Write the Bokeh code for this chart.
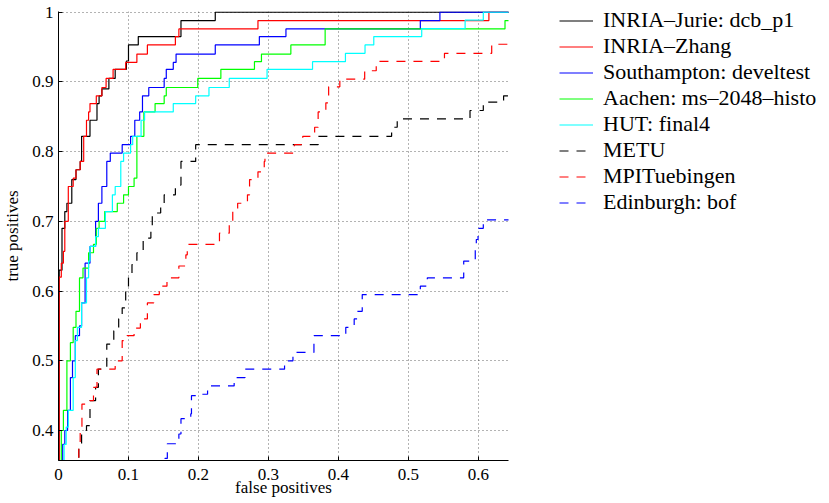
from bokeh.plotting import figure
from bokeh.models import (Legend, LegendItem, FixedTicker, CustomJSTickFormatter, Range1d)
from bokeh.embed import file_html
from bokeh.resources import INLINE

# ---- data (false positive rate, true positive rate) ----
jurie_fp = [0, 0.001, 0.005, 0.009, 0.012, 0.019, 0.025, 0.031, 0.033, 0.045, 0.055, 0.058, 0.062,
            0.072, 0.081, 0.097, 0.100, 0.114, 0.175, 0.224, 1.0]
jurie_tp = [0, 0.63, 0.69, 0.714, 0.726, 0.76, 0.774, 0.786, 0.822, 0.845, 0.869, 0.88, 0.89,
            0.905, 0.918, 0.93, 0.953, 0.965, 0.988, 1.0, 1.0]

zhang_fp = [0, 0.001, 0.004, 0.007, 0.009, 0.014, 0.021, 0.025, 0.031, 0.036, 0.040, 0.043, 0.045,
            0.054, 0.062, 0.068, 0.078, 0.096, 0.112, 0.127, 0.167, 0.172, 0.285, 0.615, 1.0]
zhang_tp = [0, 0.62, 0.64, 0.657, 0.70, 0.75, 0.762, 0.774, 0.786, 0.822, 0.845, 0.857, 0.869,
            0.88, 0.892, 0.905, 0.918, 0.928, 0.94, 0.953, 0.965, 0.976, 0.988, 1.0, 1.0]

soton_fp = [0, 0.006, 0.009, 0.013, 0.017, 0.020, 0.024, 0.030, 0.033, 0.038, 0.045, 0.053, 0.057,
            0.062, 0.069, 0.074, 0.091, 0.103, 0.109, 0.116, 0.120, 0.129, 0.151, 0.154, 0.164,
            0.168, 0.224, 0.287, 0.325, 0.517, 0.545, 1.0]
soton_tp = [0, 0.38, 0.40, 0.429, 0.476, 0.50, 0.536, 0.55, 0.583, 0.64, 0.664, 0.70, 0.726,
            0.75, 0.786, 0.798, 0.81, 0.822, 0.845, 0.857, 0.88, 0.892, 0.905, 0.918, 0.928,
            0.94, 0.953, 0.965, 0.976, 0.988, 1.0, 1.0]

aachen_fp = [0, 0.004, 0.007, 0.012, 0.017, 0.021, 0.025, 0.030, 0.035, 0.043, 0.050, 0.054, 0.058,
             0.066, 0.084, 0.093, 0.100, 0.108, 0.112, 0.122, 0.138, 0.151, 0.154, 0.199, 0.232,
             0.280, 0.290, 0.332, 0.381, 0.638, 1.0]
aachen_tp = [0, 0.40, 0.429, 0.50, 0.526, 0.548, 0.571, 0.619, 0.633, 0.655, 0.667, 0.69, 0.70,
             0.714, 0.726, 0.738, 0.75, 0.762, 0.822, 0.857, 0.869, 0.88, 0.892, 0.905, 0.918,
             0.929, 0.94, 0.953, 0.976, 0.988, 0.988]

hut_fp = [0, 0.008, 0.011, 0.014, 0.021, 0.024, 0.027, 0.033, 0.040, 0.043, 0.045, 0.053, 0.057,
          0.067, 0.077, 0.081, 0.089, 0.093, 0.103, 0.106, 0.118, 0.123, 0.164, 0.196, 0.215,
          0.244, 0.298, 0.363, 0.410, 0.438, 0.4505, 0.519, 0.581, 0.607, 1.0]
hut_tp = [0, 0.38, 0.405, 0.429, 0.476, 0.529, 0.548, 0.583, 0.619, 0.643, 0.664, 0.678, 0.69,
          0.714, 0.738, 0.75, 0.786, 0.798, 0.81, 0.822, 0.845, 0.857, 0.869, 0.88, 0.892,
          0.905, 0.918, 0.929, 0.941, 0.953, 0.965, 0.9765, 0.9885, 1.0, 1.0]

metu_fp = [0, 0.029, 0.033, 0.040, 0.045, 0.053, 0.057, 0.069, 0.079, 0.086, 0.091, 0.096, 0.100,
           0.105, 0.112, 0.121, 0.132, 0.134, 0.146, 0.151, 0.167, 0.175, 0.196, 0.371, 0.476,
           0.484, 0.588, 0.607, 0.636, 1.0]
metu_tp = [0, 0.38, 0.40, 0.407, 0.443, 0.462, 0.488, 0.524, 0.543, 0.56, 0.576, 0.60, 0.624,
           0.638, 0.655, 0.676, 0.69, 0.712, 0.724, 0.738, 0.752, 0.786, 0.81, 0.822, 0.835,
           0.847, 0.859, 0.871, 0.88, 0.88]

mpi_fp = [0, 0.029, 0.031, 0.0335, 0.043, 0.050, 0.055, 0.081, 0.091, 0.098, 0.108, 0.117, 0.127,
          0.136, 0.144, 0.155, 0.172, 0.182, 0.184, 0.230, 0.244, 0.249, 0.256, 0.270, 0.273,
          0.285, 0.294, 0.295, 0.337, 0.349, 0.366, 0.371, 0.382, 0.386, 0.402, 0.4375, 0.454,
          0.5515, 0.619, 1.0]
mpi_tp = [0, 0.38, 0.405, 0.438, 0.443, 0.462, 0.488, 0.50, 0.529, 0.536, 0.547, 0.56, 0.583,
          0.595, 0.607, 0.619, 0.636, 0.652, 0.667, 0.683, 0.698, 0.714, 0.726, 0.738, 0.76,
          0.771, 0.786, 0.798, 0.81, 0.822, 0.835, 0.857, 0.87, 0.893, 0.904, 0.916, 0.9295,
          0.941, 0.954, 0.954]

edin_fp = [0, 0.152, 0.1555, 0.172, 0.175, 0.189, 0.190, 0.1986, 0.213, 0.251, 0.2665, 0.323,
           0.335, 0.365, 0.4105, 0.4225, 0.427, 0.434, 0.517, 0.527, 0.579, 0.5955, 0.597,
           0.5995, 0.607, 1.0]
edin_tp = [0, 0.36, 0.381, 0.395, 0.417, 0.424, 0.45, 0.452, 0.464, 0.476, 0.488, 0.50,
           0.512, 0.536, 0.548, 0.56, 0.571, 0.595, 0.607, 0.619, 0.643, 0.662, 0.674,
           0.69, 0.702, 0.702]

labels = ["INRIA\u2013Jurie: dcb_p1", "INRIA\u2013Zhang", "Southampton: develtest",
          "Aachen: ms\u20132048\u2013histo", "HUT: final4", "METU", "MPITuebingen",
          "Edinburgh: bof"]
x_ticks = [0, 0.1, 0.2, 0.3, 0.4, 0.5, 0.6]
y_ticks = [0.4, 0.5, 0.6, 0.7, 0.8, 0.9, 1.0]

series = [
    (jurie_fp, jurie_tp, "black", "solid"),
    (zhang_fp, zhang_tp, "#ff0000", "solid"),
    (soton_fp, soton_tp, "#0000ff", "solid"),
    (aachen_fp, aachen_tp, "#00ff00", "solid"),
    (hut_fp, hut_tp, "#00ffff", "solid"),
    (metu_fp, metu_tp, "black", "9 8"),
    (mpi_fp, mpi_tp, "#ff0000", "9 8"),
    (edin_fp, edin_tp, "#0000ff", "9 8"),
]
for fx, ty, _, _ in series:
    assert len(fx) == len(ty)

FONT = "Liberation Serif"

p = figure(output_backend="svg", toolbar_location=None,
           frame_width=450, frame_height=449,
           min_border_left=58, min_border_top=11, min_border_bottom=43, min_border_right=321,
           x_range=Range1d(0, 0.643), y_range=Range1d(0.357, 1.001))
p.outline_line_color = None
p.background_fill_color = "white"
p.border_fill_color = "white"

renderers = []
for fx, ty, col, dash in series:
    r = p.step(fx, ty, mode="after", line_color=col, line_width=1.2, line_dash=dash)
    renderers.append(r)

for ax, ticks in ((p.xaxis[0], x_ticks), (p.yaxis[0], y_ticks)):
    ax.ticker = FixedTicker(ticks=ticks)
    ax.formatter = CustomJSTickFormatter(code="return (Math.round(tick*10)/10).toString();")
    ax.major_tick_in = 4
    ax.major_tick_out = 0
    ax.minor_tick_line_color = None
    ax.axis_line_color = "black"
    ax.major_tick_line_color = "black"
    ax.major_label_text_font = FONT
    ax.major_label_text_font_size = "17px"
    ax.major_label_text_color = "black"
    ax.axis_label_text_font = FONT
    ax.axis_label_text_font_size = "17px"
    ax.axis_label_text_font_style = "normal"
    ax.axis_label_text_color = "black"

p.xaxis.axis_label = "false positives"
p.yaxis.axis_label = "true positives"
p.xaxis.major_label_standoff = 8
p.xaxis.axis_label_standoff = -5
p.yaxis.major_label_standoff = 5
p.yaxis.axis_label_standoff = 7

for g in (p.xgrid[0], p.ygrid[0]):
    g.grid_line_color = "black"
    g.grid_line_alpha = 0.6
    g.grid_line_dash = "1 3"
    g.grid_line_width = 1
p.xgrid.ticker = FixedTicker(ticks=x_ticks)
p.ygrid.ticker = FixedTicker(ticks=y_ticks)

legend = Legend(items=[LegendItem(label=l, renderers=[r]) for l, r in zip(labels, renderers)],
                location=(51, 245),
                margin=0, padding=0, spacing=0,
                glyph_width=34, glyph_height=25, label_height=25, label_standoff=10,
                label_text_font=FONT, label_text_font_size="22px", label_text_color="black",
                border_line_alpha=0, background_fill_alpha=0)
p.add_layout(legend, "right")

open("out.html", "w").write(file_html(p, INLINE))
